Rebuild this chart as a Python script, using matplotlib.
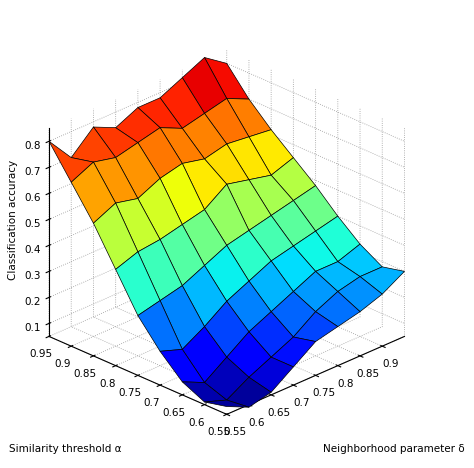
import numpy as np
import matplotlib
matplotlib.use("Agg")
import matplotlib.pyplot as plt
from matplotlib.ticker import FuncFormatter

alpha = [0.55, 0.60, 0.65, 0.70, 0.75, 0.80, 0.85, 0.90, 0.95]
delta = [0.55, 0.60, 0.65, 0.70, 0.75, 0.80, 0.85, 0.90, 0.95]
acc = [
    [0.08, 0.04, 0.06, 0.12, 0.18, 0.20, 0.22, 0.25, 0.30],
    [0.06, 0.03, 0.08, 0.12, 0.16, 0.22, 0.26, 0.28, 0.28],
    [0.10, 0.06, 0.12, 0.18, 0.22, 0.26, 0.30, 0.30, 0.33],
    [0.18, 0.15, 0.20, 0.26, 0.30, 0.34, 0.36, 0.38, 0.40],
    [0.28, 0.30, 0.32, 0.36, 0.40, 0.42, 0.44, 0.46, 0.48],
    [0.42, 0.45, 0.46, 0.48, 0.50, 0.56, 0.54, 0.52, 0.55],
    [0.56, 0.60, 0.58, 0.62, 0.64, 0.62, 0.64, 0.63, 0.62],
    [0.68, 0.72, 0.70, 0.72, 0.74, 0.70, 0.72, 0.74, 0.70],
    [0.80, 0.70, 0.78, 0.74, 0.78, 0.78, 0.82, 0.86, 0.80],
]

D, A = np.meshgrid(delta, alpha)
Z = np.array(acc)

fig = plt.figure(figsize=(4.74, 4.68), dpi=100)
ax = fig.add_axes([-0.035, -0.01, 1.0, 1.0], projection='3d', proj_type='ortho')
ax.plot_surface(D, A, Z, cmap='jet', vmin=0.03, vmax=0.86,
                edgecolor='black', linewidth=0.5, rstride=1, cstride=1,
                antialiased=True, shade=False)
ax.view_init(elev=26, azim=-135)
ax.set_xlim(0.55, 0.95)
ax.set_ylim(0.55, 0.95)
ax.set_zlim(0.05, 0.85)
ax.set_xticks([0.55, 0.6, 0.65, 0.7, 0.75, 0.8, 0.85, 0.9])
ax.set_yticks([0.55, 0.6, 0.65, 0.7, 0.75, 0.8, 0.85, 0.9, 0.95])
ax.set_zticks([0.1, 0.2, 0.3, 0.4, 0.5, 0.6, 0.7, 0.8])
fmt = FuncFormatter(lambda v, p: f"{v:g}")
for axis in (ax.xaxis, ax.yaxis, ax.zaxis):
    axis.set_major_formatter(fmt)
    axis.set_pane_color((1, 1, 1, 0))
    axis._axinfo['grid'].update({'linestyle': ':', 'color': '0.6', 'linewidth': 0.6})
    axis.set_tick_params(labelsize=7.5, pad=0)
ax.set_box_aspect((0.89, 0.89, 0.82), zoom=0.88)
fig.text(0.028, 0.53, 'Classification accuracy', fontsize=7.5, rotation=90,
         ha='center', va='center')
fig.text(0.02, 0.035, 'Similarity threshold α', fontsize=7.5, ha='left')
fig.text(0.98, 0.035, 'Neighborhood parameter δ', fontsize=7.5, ha='right')
fig.savefig('out.png', dpi=100)
